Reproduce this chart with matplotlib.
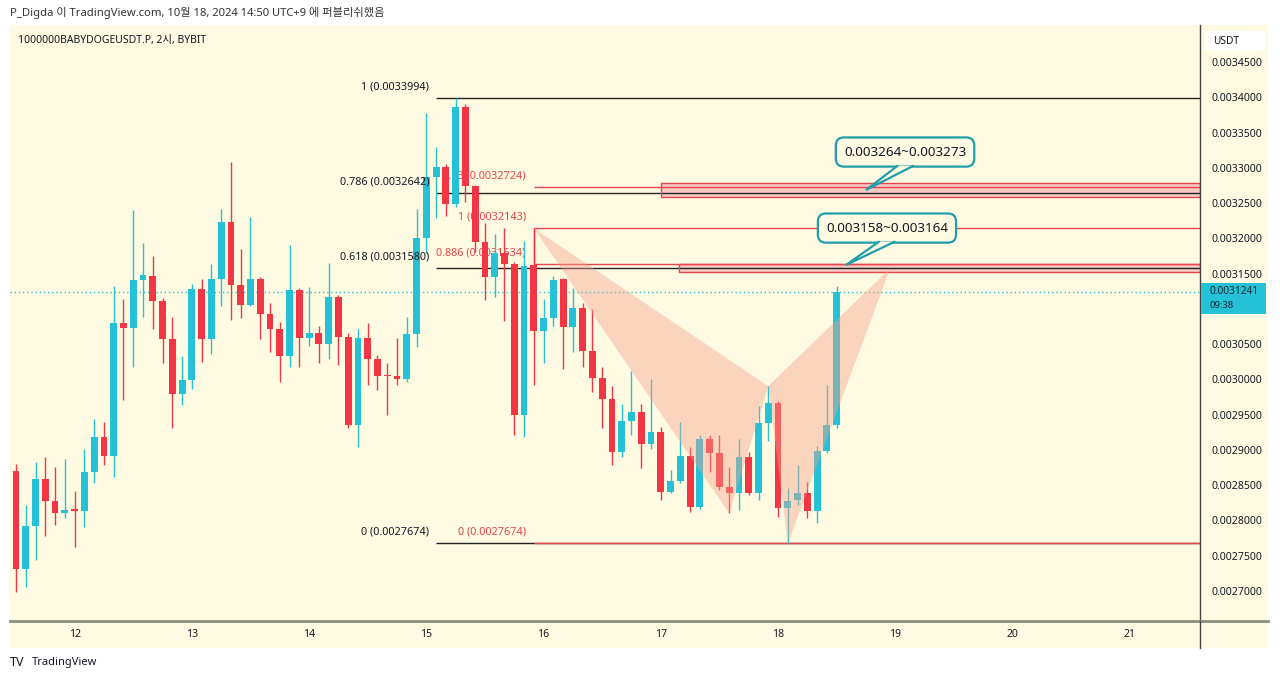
import matplotlib
matplotlib.use('Agg')
import matplotlib.pyplot as plt
from matplotlib.patches import Rectangle, Polygon, FancyBboxPatch
from matplotlib.lines import Line2D
import numpy as np

plt.rcParams['font.family'] = ['Noto Sans', 'Noto Sans CJK KR', 'DejaVu Sans']

# 2h candles of 1000000BABYDOGEUSDT.P, first bar = 11th 12:00
opens = [0.0028706, 0.0027312, 0.0027926, 0.0028588, 0.0028280, 0.0028101, 0.0028158, 0.0028134,
         0.0028683, 0.0029179, 0.0028914, 0.0030804, 0.0030733, 0.0031409, 0.0031470, 0.0031116,
         0.0030573, 0.0029789, 0.0029991, 0.0031286, 0.0030573, 0.0031428, 0.0032227, 0.0031334,
         0.0031059, 0.0031419, 0.0030927, 0.0030715, 0.0030332, 0.0031267, 0.0030583, 0.0030662,
         0.0030502, 0.0031164, 0.0030597, 0.0029353, 0.0030583, 0.0030285, 0.0030062, 0.0030048,
         0.0030001, 0.0030639, 0.0032000, 0.0032865, 0.0033016, 0.0032487, 0.0033866, 0.0032742,
         0.0031952, 0.0031456, 0.0031796, 0.0031636, 0.0029495, 0.0031622, 0.0030690, 0.0030866,
         0.0031419, 0.0030739, 0.0031008, 0.0030407, 0.0030016, 0.0029722, 0.0028966, 0.0029414,
         0.0029533, 0.0029084, 0.0029258, 0.0028408, 0.0028559, 0.0028914, 0.0028195, 0.0029155,
         0.0028961, 0.0028479, 0.0028385, 0.0028895, 0.0028385, 0.0029377, 0.0029670, 0.0028172,
         0.0028290, 0.0028385, 0.0028138, 0.0028989, 0.0029353]
highs = [0.0028800, 0.0028219, 0.0028829, 0.0028900, 0.0028762, 0.0028871, 0.0028418, 0.0029013,
         0.0029439, 0.0029400, 0.0031324, 0.0031136, 0.0032402, 0.0031941, 0.0031749, 0.0031150,
         0.0030880, 0.0030332, 0.0031353, 0.0031423, 0.0031636, 0.0032420, 0.0033078, 0.0031853,
         0.0032307, 0.0031450, 0.0031087, 0.0030818, 0.0031905, 0.0031300, 0.0031306, 0.0030757,
         0.0031646, 0.0031200, 0.0030653, 0.0030710, 0.0030795, 0.0030346, 0.0030228, 0.0030583,
         0.0030889, 0.0032412, 0.0033773, 0.0033291, 0.0033050, 0.0033994, 0.0033905, 0.0032760,
         0.0032213, 0.0032061, 0.0032142, 0.0031660, 0.0031966, 0.0032143, 0.0031136, 0.0031466,
         0.0031440, 0.0031292, 0.0031079, 0.0030994, 0.0030171, 0.0029906, 0.0029647, 0.0030123,
         0.0029651, 0.0030001, 0.0029329, 0.0028715, 0.0029400, 0.0029046, 0.0029212, 0.0029212,
         0.0029212, 0.0028754, 0.0029155, 0.0028975, 0.0029623, 0.0029906, 0.0029698, 0.0028456,
         0.0028786, 0.0028550, 0.0029056, 0.0029920, 0.0031324]
lows = [0.0026990, 0.0027061, 0.0027439, 0.0027780, 0.0027936, 0.0028039, 0.0027628, 0.0027912,
        0.0028535, 0.0028786, 0.0028620, 0.0029708, 0.0030171, 0.0030880, 0.0030715, 0.0030228,
        0.0029307, 0.0029637, 0.0029860, 0.0030251, 0.0030360, 0.0031045, 0.0030842, 0.0030875,
        0.0031040, 0.0030573, 0.0030393, 0.0029959, 0.0030171, 0.0030180, 0.0030473, 0.0030228,
        0.0030285, 0.0030204, 0.0029307, 0.0029037, 0.0029920, 0.0029850, 0.0029495, 0.0029920,
        0.0029967, 0.0030455, 0.0031788, 0.0032284, 0.0032321, 0.0032440, 0.0032519, 0.0031810,
        0.0031126, 0.0031172, 0.0030832, 0.0029212, 0.0029179, 0.0029920, 0.0030228, 0.0030757,
        0.0030143, 0.0030393, 0.0030171, 0.0029826, 0.0029307, 0.0028786, 0.0028895, 0.0029212,
        0.0028740, 0.0029009, 0.0028290, 0.0028394, 0.0028535, 0.0028124, 0.0028170, 0.0028691,
        0.0028432, 0.0028101, 0.0028148, 0.0028361, 0.0028290, 0.0029131, 0.0028053, 0.0027674,
        0.0028219, 0.0028031, 0.0027968, 0.0028960, 0.0029307]
closes = [0.0027312, 0.0027926, 0.0028588, 0.0028280, 0.0028101, 0.0028148, 0.0028138, 0.0028683,
          0.0029179, 0.0028914, 0.0030795, 0.0030733, 0.0031409, 0.0031476, 0.0031116, 0.0030573,
          0.0029789, 0.0029991, 0.0031286, 0.0030573, 0.0031428, 0.0032227, 0.0031334, 0.0031059,
          0.0031419, 0.0030927, 0.0030715, 0.0030332, 0.0031267, 0.0030583, 0.0030662, 0.0030502,
          0.0031164, 0.0030597, 0.0029353, 0.0030583, 0.0030285, 0.0030048, 0.0030048, 0.0030001,
          0.0030639, 0.0032000, 0.0032865, 0.0033016, 0.0032487, 0.0033866, 0.0032742, 0.0031952,
          0.0031456, 0.0031788, 0.0031636, 0.0029495, 0.0031608, 0.0030690, 0.0030866, 0.0031409,
          0.0030739, 0.0031008, 0.0030407, 0.0030016, 0.0029722, 0.0028966, 0.0029414, 0.0029533,
          0.0029084, 0.0029258, 0.0028408, 0.0028559, 0.0028914, 0.0028195, 0.0029155, 0.0028961,
          0.0028479, 0.0028385, 0.0028895, 0.0028385, 0.0029377, 0.0029670, 0.0028172, 0.0028280,
          0.0028385, 0.0028138, 0.0028989, 0.0029353, 0.0031241]

day_labels = ['12', '13', '14', '15', '16', '17', '18', '19', '20', '21']
last_price = 0.0031241

# fib retracement (black) and fib extension (red)
fib_levels = [0.0033994, 0.0032642, 0.0031580, 0.0027674]
fib_labels = ['1 (0.0033994)', '0.786 (0.0032642)', '0.618 (0.0031580)', '0 (0.0027674)']
fib_start = 43
ext_levels = [0.0032724, 0.0032143, 0.0031634, 0.0027674]
ext_labels = ['1.13 (0.0032724)', '1 (0.0032143)', '0.886 (0.0031634)', '0 (0.0027674)']
ext_start = 53

# harmonic XABCD points (bar index, price)
pat_x = [53, 73, 77, 79, 89.5]
pat_y = [0.0032143, 0.0028101, 0.0029906, 0.0027674, 0.0031580]

# target zones
zone_start = [66, 67.9]
zone_low = [0.0032590, 0.0031518]
zone_high = [0.0032785, 0.0031636]
zone_text = ['0.003264~0.003273', '0.003158~0.003164']
bubble_pos = [(91.0, 0.0033224), (89.15, 0.0032146)]
tail_tip = [(87.0, 0.0032685), (84.95, 0.0031622)]
tail_base = [(90.2, 91.8, 0.0033025), (88.3, 89.9, 0.0031950)]

W, H = 1280, 681
cream = '#fffbe2'
up_col = '#25c1d6'
dn_col = '#f23645'
red_line = '#e8454f'
teal = '#1f9dab'
txt_col = '#131722'


def fx(x):
    return x / W


def fy(y):
    return 1 - y / H


fig = plt.figure(figsize=(W / 100, H / 100), dpi=100, facecolor='white')
fig.add_artist(Rectangle((fx(10), fy(648)), fx(1258), 623 / H, transform=fig.transFigure,
                         facecolor=cream, edgecolor='none', zorder=-5))

ax = fig.add_axes([fx(10), fy(621), fx(1190), 596 / H])
ax.set_facecolor(cream)
ax.set_xlim(-0.614, 121.19)
ax.set_ylim(0.0026575, 0.0035025)

# candles
n = len(opens)
xs = np.arange(n)
o = np.array(opens)
c = np.array(closes)
colors = [up_col if cc >= oo else dn_col for oo, cc in zip(o, c)]
ax.vlines(xs, lows, highs, colors=colors, linewidth=1.0, zorder=3)
body_lo = np.minimum(o, c)
body_h = np.maximum(np.abs(c - o), 0.0000012)
ax.bar(xs, body_h, bottom=body_lo, width=0.7, color=colors, linewidth=0, zorder=4)

# current price line
ax.axhline(last_price, color=up_col, linestyle=(0, (1, 2)), linewidth=1, zorder=2)

# target zones (under the level lines)
xr = ax.get_xlim()[1]
for xs0, lo, hi in zip(zone_start, zone_low, zone_high):
    ax.add_patch(Rectangle((xs0, lo), xr - xs0, hi - lo, facecolor='#f48fa0', alpha=0.45,
                           edgecolor='none', zorder=1.5))
    ax.add_patch(Rectangle((xs0, lo), xr - xs0, hi - lo, facecolor='none',
                           edgecolor=red_line, linewidth=1, zorder=2.5))

# fib retracement
for lv, lb in zip(fib_levels, fib_labels):
    ax.hlines(lv, fib_start, xr, color='#222222', linewidth=1, zorder=2)
    ax.annotate(lb, xy=(fib_start, lv), xytext=(-7, 11), textcoords='offset pixels',
                ha='right', va='center', fontsize=7.8, color=txt_col, zorder=6)
for lv, lb in zip(ext_levels, ext_labels):
    ax.hlines(lv, ext_start, xr, color=red_line, linewidth=1, zorder=2)
    ax.annotate(lb, xy=(ext_start, lv), xytext=(-8, 11), textcoords='offset pixels',
                ha='right', va='center', fontsize=7.8, color=red_line, zorder=1)
ax.vlines(ext_start, ext_levels[2], ext_levels[1], color=red_line, linewidth=1, zorder=2)

# harmonic pattern triangles
pts = list(zip(pat_x, pat_y))
for tri in (pts[0:3], pts[2:5]):
    ax.add_patch(Polygon(tri, closed=True, facecolor='#f7a08a', alpha=0.42,
                         edgecolor='none', zorder=5))

# callouts
for (bx, by), txt, (tx, ty), (b1, b2, byy) in zip(bubble_pos, zone_text, tail_tip, tail_base):
    ax.text(bx, by, txt, ha='center', va='center', fontsize=9.7, color=txt_col,
            fontweight='semibold', zorder=10,
            bbox=dict(boxstyle='round,pad=0.6,rounding_size=0.6', facecolor=cream,
                      edgecolor=teal, linewidth=1.6))
    ax.add_patch(Polygon([(b1, byy), (tx, ty), (b2, byy)], closed=True, facecolor=cream,
                         edgecolor='none', zorder=11))
    ax.plot([b1, tx, b2], [byy, ty, byy], color=teal, linewidth=1.6, zorder=12,
            solid_joinstyle='miter')

# axes styling (the 0.0031000 label sits under the live price tag)
yticks = [t for t in np.arange(0.00270, 0.003451, 0.00005) if abs(t - 0.0031) > 1e-9]
ax.set_xticks([6 + 12 * i for i in range(len(day_labels))])
ax.set_xticklabels(day_labels)
ax.set_yticks(yticks)
ax.yaxis.set_major_formatter(matplotlib.ticker.FormatStrFormatter('%.7f'))
ax.yaxis.tick_right()
ax.tick_params(axis='y', length=0, pad=8, labelsize=7.6, labelcolor=txt_col)
ax.tick_params(axis='x', length=0, pad=6, labelsize=7.5, labelcolor=txt_col)
for s in ('left', 'top'):
    ax.spines[s].set_visible(False)
ax.spines['right'].set_color('#444444')
ax.spines['right'].set_linewidth(1)
ax.spines['bottom'].set_color('#8a8f80')
ax.spines['bottom'].set_linewidth(2)

fig.add_artist(Line2D([fx(1200), fx(1268)], [fy(621), fy(621)], color='#8a8f80', linewidth=2))
fig.add_artist(Line2D([fx(1200), fx(1200)], [fy(621), fy(648)], color='#444444', linewidth=1))

# price axis header + current price tag
fig.add_artist(FancyBboxPatch((fx(1205), fy(51)), fx(60), 20 / H, transform=fig.transFigure,
                              boxstyle='round,pad=0,rounding_size=0.004', facecolor='white',
                              edgecolor='none', zorder=6))
fig.text(fx(1213), fy(41), 'USDT', fontsize=7.3, color=txt_col, va='center', zorder=7)
fig.add_artist(Rectangle((fx(1201), fy(314)), fx(65), 31 / H, transform=fig.transFigure,
                         facecolor=up_col, edgecolor='none', zorder=6))
fig.text(fx(1209), fy(291), '%.7f' % last_price, fontsize=7.3, color='#0e2a33', va='center',
         zorder=7)
fig.text(fx(1209), fy(306), '09:38', fontsize=6.8, color='#0e2a33', va='center', zorder=7)

# header / footer text
fig.text(fx(10), fy(13), 'P_Digda 이 TradingView.com, 10월 18, 2024 14:50 UTC+9 에 퍼블리쉬했음',
         fontsize=8.1, color='#333333', va='center')
fig.text(fx(18), fy(40), '1000000BABYDOGEUSDT.P, 2시, BYBIT', fontsize=7.5, color=txt_col,
         va='center')
fig.text(fx(10), fy(663), 'TV', fontsize=9, fontweight='black', color=txt_col, va='center')
fig.text(fx(32), fy(663), 'TradingView', fontsize=8, color=txt_col, va='center')

fig.savefig('out.png', dpi=100, facecolor='white')
